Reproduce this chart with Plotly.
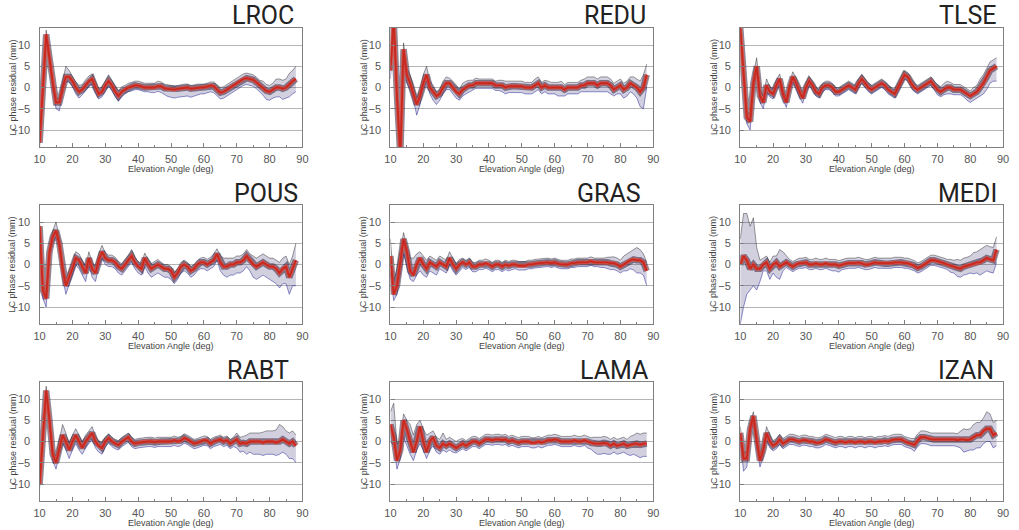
import plotly.graph_objects as go

# ---------------- data ----------------
ELEV = list(range(10, 89))          # elevation angle grid (deg)
STATIONS = ["LROC", "REDU", "TLSE", "POUS", "GRAS", "MEDI", "RABT", "LAMA", "IZAN"]
X_TICKS = [10, 20, 30, 40, 50, 60, 70, 80, 90]
Y_TICKS = [-10, -5, 0, 5, 10]

# central (red) residual curve, upper spread, lower spread of the bundle (mm)
LROC_mid = [-13, -1, 12.5, 7, 1, -3.5, -3.5, 0, 2.5, 2.5,
            1.5, 0, -1, -0.5, 0.5, 1.5, 2, 0, -1.5, -1,
            0.5, 1.5, 0.5, -1, -2, -1, -0.5, 0, 0.2, 0.5,
            0.5, 0.2, 0, 0, 0, 0, 0.3, 0.3, -0.2, -0.3,
            -0.3, -0.5, -0.3, -0.2, 0, 0, -0.3, -0.2, 0, 0,
            0, 0.2, 0.5, 0.3, -0.5, -1.2, -1, -0.5, 0, 0.5,
            1, 1.5, 2, 2.2, 2, 1.8, 1.2, 0.5, 0, -0.8,
            -1, -0.5, 0, 0, -0.3, 0, 0.8, 1.5, 2]
LROC_up = [1, 1, 1, 1, 1, 1, 1, 1.5, 2.5, 1.5,
           1.3, 1.3, 1.5, 1.2, 1.3, 1.2, 1.2, 1.3, 1.2, 1.2,
           1.3, 1.5, 1.2, 1.2, 1.2, 1.2, 1, 1, 1, 1,
           1, 1, 1, 1, 1, 1, 1.2, 1, 1, 1,
           0.8, 0.8, 0.8, 0.8, 0.8, 0.8, 0.8, 0.8, 0.8, 0.8,
           0.8, 0.8, 0.8, 1, 1.2, 1.2, 1.2, 1.2, 1.2, 1.2,
           1.2, 1.2, 1.2, 1.2, 1.2, 1.2, 1.2, 1.2, 1.5, 1.5,
           1.5, 1.5, 2, 2, 2, 2, 2.5, 2.5, 3]
LROC_dn = [1, 1, 1.5, 1.5, 1.5, 1.5, 2, 1.5, 1.2, 1.2,
           1.2, 1.5, 1.5, 1.2, 1.2, 1.2, 1.2, 1.2, 1.2, 1.2,
           1.2, 1.2, 1.2, 1.2, 1.2, 1.2, 1, 1, 1, 1,
           1, 1, 1, 1, 1.2, 1.2, 1.2, 1.5, 1.5, 1.8,
           2, 2, 2, 2, 2, 2, 2, 1.8, 1.8, 1.5,
           1.5, 1.5, 1.5, 1.5, 1.5, 1.5, 1.5, 1.5, 1.5, 1.5,
           1.5, 1.5, 1.5, 1.5, 1.5, 1.5, 1.5, 1.5, 1.8, 2,
           2, 2, 2.2, 2.2, 2.5, 2.5, 3, 3, 3]

REDU_mid = [4, 16, -2, -16, 9, 3, 1, -1.5, -4, -2,
            1, 3, 0, -1, -2, -1.5, 0, 1, 1, 0,
            -1, -1.5, -0.5, 0, 0.5, 0.5, 1, 1, 1, 1,
            1, 1, 0.5, 0.5, 0.5, 0, 0.3, 0.3, 0.3, 0.3,
            0.3, 0, 0, 0, 0.5, 1, 0, 0.5, 0, 0,
            0, 0, 0, -0.5, 0, 0, 0, 0, 0.5, 0.5,
            1, 1, 1, 0.5, 1, 1, 1, 0.5, -0.5, 0,
            0.5, -0.5, 0, 1, 0.5, 0, -1, 0, 3]
REDU_up = [2, 2, 2, 2, 1.5, 1.5, 2, 2, 1.5, 1.5,
           2, 2, 1.5, 1.5, 1, 1, 1.5, 1.5, 1.2, 1.5,
           1.5, 1.2, 1.5, 1.5, 1.2, 1.2, 1.2, 1, 1, 1,
           1, 1, 1, 1.2, 1.2, 1.5, 1.2, 1.2, 1.2, 1.2,
           1.2, 1.2, 1.2, 1.2, 1.5, 1.5, 1.2, 1.2, 1.5, 1.2,
           1.2, 1.2, 1.5, 1.2, 1.2, 1.2, 1.2, 1.2, 1.2, 1.5,
           1.5, 1.5, 1.5, 1.5, 1.5, 1.5, 1.5, 1.5, 1.5, 1.5,
           1.5, 1.5, 1.5, 1.5, 2, 2, 2.5, 3, 2.5]
REDU_dn = [2, 2, 2, 2, 2, 2, 1.5, 1.5, 2.5, 2,
           1.5, 1.5, 1.5, 2, 2, 1.5, 1.5, 1.5, 1.5, 1.5,
           1.5, 1.5, 1.5, 1.5, 1.5, 1.2, 1.2, 1.2, 1.2, 1.2,
           1.2, 1.2, 1.2, 1.2, 1.5, 1.5, 1.5, 1.5, 1.5, 1.5,
           1.5, 1.5, 1.5, 1.5, 1.5, 1.5, 1.5, 1.5, 1.5, 1.5,
           1.5, 2, 2, 1.5, 1.5, 1.5, 1.5, 1.5, 1.5, 1.5,
           2, 2, 2, 1.5, 2, 2, 2, 2, 1.5, 1.5,
           2, 2, 2, 2, 2, 2.5, 3.5, 5, 3]

TLSE_mid = [14, 3, -7, -8, 1, 5, -2, -3.5, 0.5, -1,
            -1.5, 0.5, 2, -1.5, -3.5, 0, 2.5, 1, -1, -2.5,
            0, 1.5, 0.5, -1, -1.5, 0, 0.5, 0.5, 0, -1,
            -1, -0.5, 0, 0.5, 0, -0.5, 1, 2, 1, 0,
            -0.5, 0, 0.5, 1, 0.5, -0.5, -1, -1.5, 0, 1.5,
            3, 2.5, 1, 0, -0.5, 0, 0.5, 1, 1.5, 0.5,
            -0.5, -1, -0.5, 0, 0, -0.5, -0.5, -0.5, -1, -1.5,
            -2, -1.5, -1, 0, 1, 2.5, 4, 4.5, 5]
TLSE_up = [1, 1.5, 1.5, 1.5, 2, 2, 1.5, 1.5, 1.5, 1.2,
           1.2, 1.2, 1.2, 1.2, 1.2, 1.2, 1.2, 1.2, 1.2, 1.2,
           1.2, 1, 1, 1, 1, 1, 1, 1, 1, 1,
           1, 1, 1, 1, 1, 1, 1, 1, 1, 1,
           1, 1, 1, 1, 1, 1, 1, 1, 1, 1,
           1, 1, 1, 1, 1, 1, 1, 1, 1, 1,
           1.2, 1.2, 1.5, 1.5, 1.2, 1.2, 1.2, 1.2, 1.2, 1.2,
           1.2, 1.5, 1.5, 2, 2, 2, 2, 2, 2]
TLSE_dn = [1, 1.5, 1.5, 2, 2, 1.5, 1.5, 1.5, 1.5, 1.2,
           1.2, 1.2, 1.2, 1.2, 1.2, 1.2, 1.2, 1.2, 1.2, 1.2,
           1.2, 1, 1, 1, 1, 1, 1, 1, 1, 1,
           1, 1, 1, 1, 1, 1, 1, 1, 1, 1,
           1, 1, 1, 1, 1, 1, 1, 1, 1, 1,
           1, 1, 1, 1, 1, 1, 1, 1, 1, 1,
           1.2, 1.2, 1.2, 1.5, 1.5, 1.2, 1.2, 1.2, 1.2, 1.5,
           1.5, 1.5, 1.5, 2, 2.5, 3, 3, 3, 3.5]

POUS_mid = [9, -6, -8, 3, 6.5, 8, 5, -1, -5, -3,
            -1, 1.5, 1, -0.5, -2, 1.5, -1, -2, 1, 3,
            1.5, 1, 1, 0.5, -0.5, -1, 0, 1, 2, 0.5,
            -0.5, -1, 1.5, 0, -1, -0.5, 0, -0.5, -1, -1,
            -1.5, -3, -2, -0.5, 0, -0.5, -1.5, -1, 0, 0.5,
            0.5, 0, 0.5, 1, 2.5, 0.5, -0.5, -0.5, 0, 0,
            0.5, 0.5, 1, 2, 1, 0, -0.5, 0, 0.5, 0,
            -0.5, -0.5, -1, -2, -1, -0.5, -3, -1, 1]
POUS_up = [1, 1.5, 1.5, 1.5, 1.5, 2, 1.5, 1.5, 1.5, 1.5,
           1.5, 1.5, 1.5, 1.5, 1.5, 1.5, 1.5, 1.5, 1.5, 1.5,
           1.2, 1.2, 1.2, 1.2, 1.2, 1.2, 1.2, 1.2, 1.5, 1.2,
           1.2, 1.2, 1.2, 1.2, 1.2, 1.2, 1.2, 1, 1, 1,
           1, 1, 1, 1, 1, 1, 1, 1, 1, 1,
           1.2, 1.2, 1.2, 1.5, 1.2, 1.5, 2, 2, 1.5, 1.5,
           1.5, 1.5, 1.5, 1.5, 1.5, 2, 2, 2, 2, 2,
           2, 2, 2, 2.5, 2.5, 2.5, 3, 3, 4]
POUS_dn = [2, 2, 2, 1.5, 1.5, 1.5, 1.5, 2, 2, 1.5,
           1.5, 1.5, 2, 2, 2, 1.5, 2, 2, 1.5, 1.5,
           1.5, 1.5, 1.5, 1.5, 1.5, 1.5, 1.5, 1.5, 1.5, 1.5,
           1.5, 1.5, 2, 2, 2, 2, 2, 2, 2, 2,
           2, 1.5, 1.5, 1.5, 1.5, 1.5, 1.5, 1.5, 1.5, 1.5,
           1.5, 1.5, 1.5, 1.5, 1.5, 2, 2, 2.5, 2.5, 2.5,
           2.5, 2.5, 2.5, 2.5, 2.5, 3, 3, 3, 3, 3,
           3, 3.5, 3.5, 3.5, 3.5, 4, 4, 4, 6]

GRAS_mid = [2, -7, -5, 1, 6, 3, -1.5, -2.5, 0, 1.5,
            0, -1, 0.5, 0, -0.5, 0.5, 0, -0.5, 1.5, 0,
            -1, 0, 0.5, 0, 0.5, -0.5, -0.5, 0, 0, 0.3,
            0, -0.5, 0, 0, -0.5, 0, -0.3, 0, 0, -0.3,
            -0.3, -0.3, 0, 0, 0.2, 0.3, 0.3, 0.5, 0.5, 0.3,
            0.5, 0.2, 0, 0, 0, 0.3, 0.3, 0.5, 0.5, 0.5,
            0.5, 0.8, 0.5, 0.5, 0.5, 0.5, 0.5, 0.3, 0.3, 0,
            -0.5, 0, 0.5, 1, 1.2, 1, 1, 0.5, -1.5]
GRAS_up = [4, 3, 4, 2, 1.5, 1.5, 3, 4, 2.5, 1.5,
           2, 2, 1.5, 1.5, 1.5, 1.5, 1.5, 1.5, 1.5, 1.5,
           1.2, 1.2, 1, 1, 1, 1, 1, 1, 1, 1,
           1, 1, 1, 1, 1, 1, 1, 1, 1, 1,
           1, 1, 1, 1, 1, 1, 1, 1, 1, 1,
           1, 1, 1, 1, 1, 1, 1, 1, 1, 1,
           1, 1, 1, 1, 1, 1, 1.2, 1.5, 1.5, 1.5,
           1.5, 2, 2, 2, 2.5, 3, 2.5, 2, 2]
GRAS_dn = [4, 1.5, 2, 3, 3.5, 3.5, 2, 1.5, 2.5, 3,
           2.5, 2, 2, 2, 2, 1.5, 1.5, 1.5, 1.5, 1.5,
           1.5, 1.5, 1.2, 1.2, 1.2, 1.2, 1.2, 1.2, 1.2, 1.2,
           1.2, 1.2, 1.2, 1.2, 1.2, 1.2, 1.2, 1.2, 1, 1,
           1, 1, 1, 1, 1, 1, 1, 1, 1, 1,
           1, 1, 1, 1, 1, 1, 1, 1, 1, 1,
           1, 1, 1, 1, 1.2, 1.2, 1.5, 1.5, 1.5, 1.5,
           1.5, 1.5, 2, 2, 2.5, 3, 3, 3, 3.5]

MEDI_mid = [0, 2, 1, -1, 0, -1, -1, 0, 0.5, -1,
            0, 0.5, -0.5, 0, 0.5, 0, -0.5, 0, 0.3, 0.3,
            0.5, 0, 0, 0.3, 0, 0, 0.3, 0, 0, 0,
            -0.3, 0, 0.2, 0.3, 0.3, 0.3, 0.5, 0.3, 0, 0,
            0.3, 0.5, 0.3, 0.3, 0.2, 0.2, 0.3, 0.5, 0.5, 0.5,
            0.3, 0.3, 0, -0.3, -0.8, -0.5, 0, 0.5, 1, 1,
            0.8, 0.5, 0.3, 0, -0.3, -0.5, -0.8, -1, -0.5, -0.3,
            0, 0.3, 0.5, 0.5, 1, 1.5, 1.2, 1, 3.5]
MEDI_up = [6, 10, 11, 10, 11, 5, 2, 1.5, 1.5, 1.5,
           2, 1.5, 4, 3, 1.5, 1.2, 1.2, 1.2, 1.2, 1.2,
           1.2, 1.2, 1.2, 1.2, 1.2, 1.2, 1.2, 1.2, 1.2, 1.2,
           1.2, 1.2, 1.2, 1.2, 1.2, 1.2, 1.2, 1.2, 1.2, 1.2,
           1.2, 1.2, 1.2, 1.2, 1.2, 1.2, 1.2, 1.2, 1.2, 1.2,
           1.2, 1.2, 1.2, 1.2, 1.2, 1.2, 1.2, 1.2, 1.2, 1.2,
           1.2, 1.2, 1.2, 1.2, 1.5, 1.5, 2, 2, 2, 2,
           2, 2.5, 2.5, 3, 3, 3, 3, 3, 3]
MEDI_dn = [14, 12, 8, 5, 5, 5, 3, 1.5, 2, 2.5,
           2, 3.5, 3, 1.5, 1.2, 1.2, 1.2, 1.2, 1.2, 1.2,
           1.2, 1.2, 1.2, 1.2, 1.2, 1.2, 1.2, 1.2, 1.5, 1.5,
           1.5, 1.2, 1.2, 1.2, 1.2, 1.2, 1.2, 1.2, 1.2, 1.2,
           1.2, 1.2, 1.2, 1.2, 1.2, 1.2, 1.2, 1.2, 1.2, 1.2,
           1.2, 1.2, 1.2, 1.2, 1.2, 1.2, 1.2, 1.2, 1.2, 1.2,
           1.2, 1.2, 1.2, 1.2, 1.5, 1.5, 2, 2, 2, 2,
           2, 2.5, 2.5, 3, 3, 3, 3, 3, 3]

RABT_mid = [-10, 0, 12, 5, -3, -5, -1.5, 1.5, 0, -2,
            0, 1.5, 0, -1.5, 0, 1, 2, 0, -1, -1.5,
            0, 0.8, 0, -0.5, -0.8, 0, 0.5, 1, 0, -0.5,
            -0.3, -0.2, 0, 0, 0, -0.2, 0, 0, 0, 0,
            0, 0.3, 0, 0.2, 0.8, 0.5, 0, -0.5, -0.3, 0,
            0.3, 0.2, -0.5, 0, 0.3, 0.5, 0, 0.3, -0.5, 0,
            0.5, -0.5, -0.3, -0.5, 0, 0, 0, 0, -0.3, 0,
            0, 0, -0.3, 0, 0.5, 0, -0.5, 0, -1]
RABT_up = [1, 1, 1, 1, 1, 1.5, 1.5, 2.5, 2, 1.5,
           1.5, 1.5, 1.5, 1.5, 1.5, 1.5, 1.5, 1.2, 1.2, 1.2,
           1, 1, 1, 1, 1, 1, 1, 1, 1, 1,
           1, 1, 1, 1, 1, 1, 1, 1, 1, 1,
           1, 1, 1, 1, 1, 1, 1, 1, 1, 1,
           1, 1, 1, 1, 1, 1, 1, 1, 1, 1,
           1.5, 1.5, 1.5, 2, 2, 2, 2, 2, 2.5, 2.5,
           2.5, 2.5, 3, 4, 3, 2.5, 2.5, 2.5, 2.5]
RABT_dn = [1, 1, 1, 1, 1.5, 1.5, 1.5, 2, 2, 2,
           2, 2, 2, 1.5, 1.5, 1.5, 1.5, 1.5, 1.5, 1.5,
           1.2, 1.2, 1.2, 1.2, 1.2, 1.2, 1.2, 1.2, 1.2, 1.2,
           1.2, 1.2, 1.2, 1.2, 1.2, 1.2, 1.2, 1.2, 1.2, 1.2,
           1.2, 1.2, 1.2, 1.2, 1.2, 1.2, 1.2, 1.2, 1.2, 1.2,
           1.2, 1.2, 1.2, 1.2, 1.2, 1.2, 1.2, 1.2, 1.2, 1.2,
           2, 2, 2, 2.5, 2.5, 3, 3, 3, 3, 3,
           3, 3, 3, 3, 3, 3, 3.5, 4, 4]

LAMA_mid = [4, 1, -4.5, -2, 5, 3, 0, -2.5, 0, 3.5,
            0, -2.5, 0, 1, -1, -1.5, -0.5, -1, -0.5, -1,
            -1.5, -1, -0.5, -1, -0.5, 0, 0, -0.5, 0, 0.5,
            0.5, 0.3, 0.5, 0.5, 0.3, 0.5, 0, 0.3, 0, -0.3,
            0, 0, 0, -0.3, -0.3, 0, -0.3, 0, 0.3, 0.3,
            0.5, 0.3, 0, 0, 0, 0, 0.3, 0, 0, 0.3,
            0, -0.3, -0.5, -0.5, -0.5, -0.3, -0.5, -1, -0.5, -1,
            -0.8, -0.5, -1, -0.8, -0.5, -0.5, -0.8, -0.5, -0.5]
LAMA_up = [3, 8, 4, 2, 1.5, 2, 4, 4, 4, 1.5,
           3, 4, 2, 1.5, 2, 2, 2.5, 1.5, 1.5, 1.5,
           1.5, 1.5, 1.2, 1.2, 1.2, 1.2, 1.2, 1.2, 1.2, 1.2,
           1.2, 1.2, 1.2, 1.2, 1.2, 1.2, 1.2, 1.2, 1.2, 1.2,
           1.2, 1.2, 1.2, 1.2, 1.2, 1.2, 1.2, 1.2, 1.2, 1.2,
           1.2, 1.2, 1.2, 1.2, 1.2, 1.2, 1.2, 1.2, 1.2, 1.2,
           1.2, 1.2, 1.5, 1.5, 1.5, 1.5, 1.5, 1.5, 1.5, 1.5,
           1.5, 1.5, 1.5, 2, 2, 2.5, 2.5, 2.5, 2.5]
LAMA_dn = [4, 2, 2, 2, 4, 4, 3, 2, 2, 4,
           2, 1.5, 2, 2, 1.5, 1.5, 1.5, 1.5, 1.5, 1.5,
           1.2, 1.2, 1.2, 1.2, 1.2, 1.2, 1.2, 1.2, 1.2, 1.2,
           1.2, 1.2, 1.2, 1.2, 1.2, 1.2, 1.2, 1.2, 1.2, 1.2,
           1.2, 1.2, 1.2, 1.2, 1.2, 1.2, 1.2, 1.2, 1.2, 1.2,
           1.2, 1.2, 1.2, 1.2, 1.2, 1.2, 1.2, 1.2, 1.2, 1.2,
           1.5, 1.5, 2, 2.5, 2.5, 2.5, 2.5, 2, 2, 2,
           2, 2, 2, 2.5, 2.5, 3, 3, 3, 3]

IZAN_mid = [2, -4, -4, 3, 6, 0, -4.5, -2, 2, 0,
            -1, -0.5, 0.5, -0.5, 0, 0.5, 0.5, 0.3, 0, 0.3,
            0.3, 0, 0, -0.3, -0.3, 0, 0.5, 0.3, 0, -0.3,
            0, 0, -0.3, 0, 0, -0.3, 0, 0, -0.3, 0,
            0, -0.3, 0, 0, 0.2, 0, 0.3, 0.5, 0.5, 0.5,
            0, -0.3, -0.5, -0.8, 0.3, 1, 1, 0.8, 0.5, 0.5,
            0.5, 0.5, 0.5, 0.5, 0.5, 0.5, 0.3, 0.5, 0.5, 0.3,
            0.5, 1, 1.5, 1.5, 2.5, 3, 3, 1.5, 2]
IZAN_up = [1.5, 1.5, 1.5, 1.5, 1, 1.5, 1.5, 1.5, 1.5, 1.5,
           1.2, 1.2, 1.2, 1.2, 1.2, 1.2, 1.2, 1.2, 1.2, 1.2,
           1.2, 1.2, 1.2, 1.2, 1.2, 1.2, 1.2, 1.2, 1.2, 1.2,
           1.2, 1.2, 1.2, 1.2, 1.2, 1.2, 1.2, 1.2, 1.2, 1.2,
           1.2, 1.2, 1.2, 1.2, 1.2, 1.2, 1.2, 1.2, 1.2, 1.2,
           1.2, 1.2, 1.2, 1.5, 1.5, 1.5, 1.5, 1.5, 1.5, 1.5,
           1.5, 1.5, 1.5, 1.5, 1.5, 1.5, 1.5, 2, 2.5, 2.5,
           2.5, 3, 3, 3, 3, 4, 3.5, 3, 3]
IZAN_dn = [1.5, 3, 2, 1.5, 1.5, 1.5, 1.5, 1.5, 1.5, 1.5,
           1.2, 1.2, 1.2, 1.2, 1.2, 1.2, 1.2, 1.2, 1.2, 1.2,
           1.2, 1.2, 1.2, 1.2, 1.2, 1.2, 1.2, 1.2, 1.2, 1.2,
           1.2, 1.2, 1.2, 1.2, 1.2, 1.2, 1.2, 1.2, 1.2, 1.2,
           1.2, 1.2, 1.2, 1.2, 1.2, 1.2, 1.2, 1.2, 1.2, 1.2,
           1.2, 1.2, 1.2, 1.5, 1.5, 1.5, 1.5, 1.5, 1.5, 1.5,
           1.5, 1.5, 1.5, 1.5, 1.5, 1.5, 1.5, 2, 3, 2.5,
           2.5, 3, 3, 3, 3, 3, 3, 3, 3]

SERIES = {
    "LROC": (LROC_mid, LROC_up, LROC_dn),
    "REDU": (REDU_mid, REDU_up, REDU_dn),
    "TLSE": (TLSE_mid, TLSE_up, TLSE_dn),
    "POUS": (POUS_mid, POUS_up, POUS_dn),
    "GRAS": (GRAS_mid, GRAS_up, GRAS_dn),
    "MEDI": (MEDI_mid, MEDI_up, MEDI_dn),
    "RABT": (RABT_mid, RABT_up, RABT_dn),
    "LAMA": (LAMA_mid, LAMA_up, LAMA_dn),
    "IZAN": (IZAN_mid, IZAN_up, IZAN_dn),
}
for k, v in SERIES.items():
    for arr in v:
        assert len(arr) == len(ELEV), (k, len(arr))

# ---------------- layout geometry (pixels) ----------------
W, H = 1019, 530
COL_L = [34, 389, 743]
ROW_T = [28, 205, 382]
PW, PH = 266, 119
TITLE_R = [293, 650, 1004, 298, 645, 1005, 288, 652, 1002]

FONT = "Liberation Sans, Arial, Helvetica, sans-serif"
TITLE_FONT = "Roboto, Liberation Sans, sans-serif"
fig = go.Figure()
annotations = []
layout_axes = {}

for i, st in enumerate(STATIONS):
    r, c = divmod(i, 3)
    n = i + 1
    xa = "x" if n == 1 else f"x{n}"
    ya = "y" if n == 1 else f"y{n}"
    mid, up, dn = SERIES[st]
    hi = [m + u for m, u in zip(mid, up)]
    lo = [m - d for m, d in zip(mid, dn)]

    # outer envelope of the bundle (blue lower edge, black upper edge)
    fig.add_trace(go.Scatter(x=ELEV, y=lo, mode="lines", xaxis=xa, yaxis=ya,
                             line=dict(color="rgba(30,30,150,0.7)", width=0.7),
                             showlegend=False, hoverinfo="skip"))
    fig.add_trace(go.Scatter(x=ELEV, y=hi, mode="lines", xaxis=xa, yaxis=ya,
                             fill="tonexty", fillcolor="rgba(50,40,110,0.22)",
                             line=dict(color="rgba(20,20,20,0.6)", width=0.7),
                             showlegend=False, hoverinfo="skip"))
    # dense dark core of the bundle
    fig.add_trace(go.Scatter(x=ELEV, y=mid, mode="lines", xaxis=xa, yaxis=ya,
                             line=dict(color="rgba(35,20,50,0.5)", width=6.5),
                             showlegend=False, hoverinfo="skip"))
    # red series on top
    fig.add_trace(go.Scatter(x=ELEV, y=mid, mode="lines", xaxis=xa, yaxis=ya,
                             line=dict(color="rgba(232,72,58,0.75)", width=3.8),
                             showlegend=False, hoverinfo="skip"))
    fig.add_trace(go.Scatter(x=ELEV, y=mid, mode="lines", xaxis=xa, yaxis=ya,
                             line=dict(color="#c8281e", width=1.8),
                             showlegend=False, hoverinfo="skip"))

    x0 = COL_L[c] / W
    x1 = (COL_L[c] + PW) / W
    y1 = 1 - ROW_T[r] / H
    y0 = 1 - (ROW_T[r] + PH) / H
    axis_common = dict(showline=True, linecolor="#808080", linewidth=1.3, mirror=True,
                       ticks="inside", tickcolor="#808080", ticklen=4, tickwidth=1,
                       zeroline=False,
                       tickfont=dict(family=FONT, size=11, color="#555555"))
    layout_axes["xaxis" if n == 1 else f"xaxis{n}"] = dict(
        axis_common, domain=[x0, x1], anchor=ya, range=[10, 90],
        tickmode="array", tickvals=X_TICKS, showgrid=False,
        minor=dict(ticks="inside", tickvals=[15, 25, 35, 45, 55, 65, 75, 85],
                   ticklen=2, tickcolor="#808080", showgrid=False),
        ticklabelstandoff=2)
    layout_axes["yaxis" if n == 1 else f"yaxis{n}"] = dict(
        axis_common, domain=[y0, y1], anchor=xa, range=[-14, 14],
        tickmode="array", tickvals=Y_TICKS, showgrid=True,
        gridcolor="#b4b4b4", gridwidth=1.2, ticklabelstandoff=6)

    annotations.append(dict(text=st, xref="paper", yref="paper",
                            x=TITLE_R[i] / W, y=1 - (ROW_T[r] - 12) / H,
                            xanchor="right", yanchor="middle", showarrow=False,
                            font=dict(family=TITLE_FONT, size=25, color="#222222",
                                      weight=400)))
    annotations.append(dict(text="LC phase residual (mm)", xref="paper", yref="paper",
                            x=(COL_L[c] - 27) / W, y=(y0 + y1) / 2, textangle=-90,
                            xanchor="center", yanchor="middle", showarrow=False,
                            font=dict(family=FONT, size=9, color="#444444")))
    annotations.append(dict(text="Elevation Angle (deg)", xref="paper", yref="paper",
                            x=(x0 + x1) / 2, y=1 - (ROW_T[r] + PH + 22) / H,
                            xanchor="center", yanchor="middle", showarrow=False,
                            font=dict(family=FONT, size=9, color="#444444")))

fig.update_layout(width=W, height=H, autosize=False,
                  margin=dict(l=0, r=0, t=0, b=0),
                  paper_bgcolor="white", plot_bgcolor="white",
                  annotations=annotations, **layout_axes)

fig.write_html("out.html")
